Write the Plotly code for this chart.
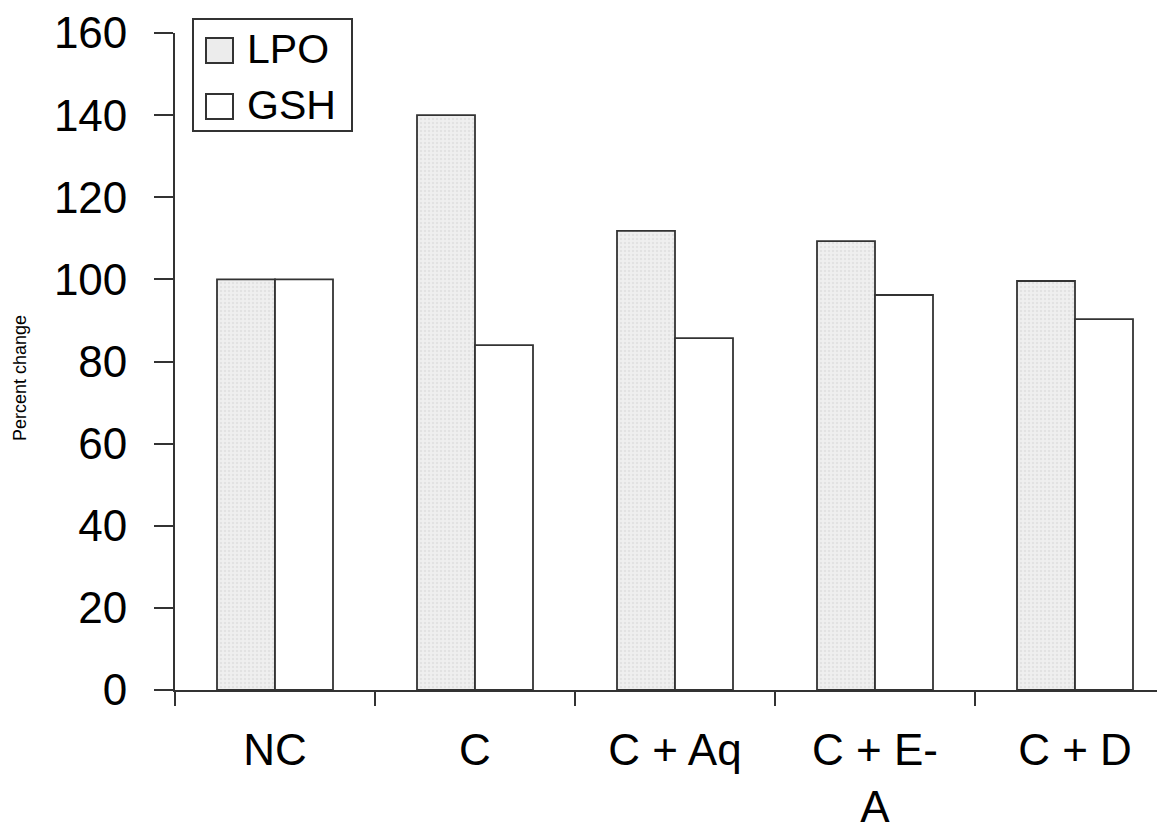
import plotly.graph_objects as go

categories = ["NC", "C", "C + Aq", "C + E-<br>A", "C + D"]
lpo = [100, 140, 111.8, 109.3, 99.6]
gsh = [100, 84, 85.7, 96.2, 90.3]
y_ticks = [0, 20, 40, 60, 80, 100, 120, 140, 160]
series_names = ["LPO", "GSH"]

FONT = "Liberation Sans, Arial, sans-serif"
EDGE = "#333333"
LPO_FILL = "#ececec"

W, H = 1165, 833
OFF = 8  # page body margin
# plot area in page pixels: x 175..1165, y 33..690
L = 175 - OFF
T = 33 - OFF
R = W - (1165 - OFF)
B = H - (690 - OFF)
PW, PH = W - L - R, H - T - B


def px(x):
    return (x - OFF - L) / PW


def py(y):
    return (H - B - (y - OFF)) / PH


fig = go.Figure()
fig.add_trace(go.Bar(
    x=categories, y=lpo, name=series_names[0], showlegend=False,
    marker=dict(color=LPO_FILL, line=dict(color=EDGE, width=1.8),
                pattern=dict(shape=".", fgcolor="#d4d4d4", bgcolor="#efefef",
                             size=4, solidity=0.3)),
))
fig.add_trace(go.Bar(
    x=categories, y=gsh, name=series_names[1], showlegend=False,
    marker=dict(color="white", line=dict(color=EDGE, width=1.8)),
))

# legend drawn as shapes + text
shapes = [
    dict(type="rect", xref="paper", yref="paper",
         x0=px(193), x1=px(352), y0=py(131), y1=py(19),
         line=dict(color=EDGE, width=2), fillcolor="white", layer="above"),
    dict(type="rect", xref="paper", yref="paper",
         x0=px(206), x1=px(233), y0=py(63), y1=py(38),
         line=dict(color=EDGE, width=2), fillcolor=LPO_FILL, layer="above"),
    dict(type="rect", xref="paper", yref="paper",
         x0=px(206), x1=px(233), y0=py(119), y1=py(94),
         line=dict(color=EDGE, width=2), fillcolor="white", layer="above"),
]
annotations = [
    dict(text=series_names[0], xref="paper", yref="paper", x=px(245), y=py(49),
         xanchor="left", yanchor="middle", showarrow=False,
         font=dict(family=FONT, size=41, color="black")),
    dict(text=series_names[1], xref="paper", yref="paper", x=px(245), y=py(105),
         xanchor="left", yanchor="middle", showarrow=False,
         font=dict(family=FONT, size=41, color="black")),
    dict(text="Percent change", xref="paper", yref="paper", x=px(20), y=py(378),
         xanchor="center", yanchor="middle", showarrow=False, textangle=-90,
         font=dict(family=FONT, size=18, color="black")),
]

fig.update_layout(
    width=W, height=H,
    margin=dict(l=L, r=R, t=T, b=B),
    paper_bgcolor="white", plot_bgcolor="white",
    barmode="group", bargap=0.42, bargroupgap=0,
    font=dict(family=FONT, color="black"),
    showlegend=False,
    shapes=shapes, annotations=annotations,
    xaxis=dict(
        range=[-0.5, 4.45], automargin=False,
        showline=True, linecolor=EDGE, linewidth=1.8,
        ticks="outside", ticklen=14, tickcolor=EDGE, tickwidth=1.8,
        tickson="boundaries", ticklabelstandoff=20,
        tickfont=dict(family=FONT, size=44, color="black"),
        showgrid=False, zeroline=False,
    ),
    yaxis=dict(
        range=[0, 160], tickvals=y_ticks, automargin=False,
        showline=True, linecolor=EDGE, linewidth=1.8,
        ticks="outside", ticklen=19, tickcolor=EDGE, tickwidth=1.8,
        ticklabelstandoff=18,
        tickfont=dict(family=FONT, size=44, color="black"),
        showgrid=False, zeroline=False,
    ),
)

fig.write_html("out.html")
